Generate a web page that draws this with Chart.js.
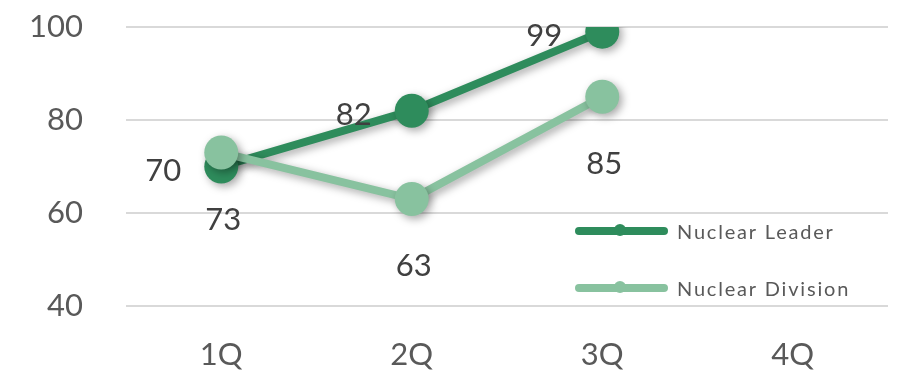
<!DOCTYPE html>
<html>
<head>
<meta charset="utf-8">
<script src="https://cdn.jsdelivr.net/npm/chart.js@4"></script>
<style>
  html, body { margin: 0; padding: 0; background: #fff; }
  #wrap { width: 898px; height: 371px; }
</style>
</head>
<body>
<div id="wrap"><canvas id="myChart" width="898" height="371"></canvas></div>
<script>
const quarters = ['1Q', '2Q', '3Q', '4Q'];
const leaderValues = [70, 82, 99, null];
const divisionValues = [73, 63, 85, null];
const seriesNames = ['Nuclear Leader', 'Nuclear Division'];
const yTicks = [40, 60, 80, 100];

const darkGreen = '#2e8c5c';
const lightGreen = '#88c29f';
const FONT = 'Lato, "DejaVu Sans", sans-serif';

// shadow under lines and points
const shadowPlugin = {
  id: 'shadow',
  beforeDatasetsDraw(chart) {
    const c = chart.ctx;
    c.save();
    c.shadowColor = 'rgba(0,0,0,0.35)';
    c.shadowBlur = 8;
    c.shadowOffsetX = 3;
    c.shadowOffsetY = 3;
  },
  afterDatasetsDraw(chart) {
    chart.ctx.restore();
  }
};

// value labels: leader to the left, division below
const labelPlugin = {
  id: 'valueLabels',
  afterDatasetsDraw(chart) {
    const c = chart.ctx;
    c.save();
    c.font = '31px ' + FONT;
    c.fillStyle = '#404040';
    chart.data.datasets.forEach((ds, i) => {
      const meta = chart.getDatasetMeta(i);
      meta.data.forEach((pt, j) => {
        const v = ds.data[j];
        if (v == null) return;
        c.textBaseline = 'middle';
        if (i === 0) {
          c.textAlign = 'right';
          c.fillText(String(v), pt.x - 40, pt.y + 4);
        } else {
          c.textAlign = 'center';
          c.fillText(String(v), pt.x + 2, pt.y + 67);
        }
      });
    });
    c.restore();
  }
};

// legend drawn inside the plot area
const legendPlugin = {
  id: 'insideLegend',
  afterDraw(chart) {
    const c = chart.ctx;
    const rows = [231, 288];
    c.save();
    chart.data.datasets.forEach((ds, i) => {
      const y = rows[i];
      c.strokeStyle = ds.borderColor;
      c.lineWidth = 8;
      c.lineCap = 'round';
      c.beginPath();
      c.moveTo(579, y);
      c.lineTo(664, y);
      c.stroke();
      c.fillStyle = ds.borderColor;
      c.beginPath();
      c.arc(620, y - 1, 6, 0, Math.PI * 2);
      c.fill();
      c.font = '20px ' + FONT;
      c.letterSpacing = '1.8px';
      c.fillStyle = '#595959';
      c.textAlign = 'left';
      c.textBaseline = 'middle';
      c.fillText(ds.label, 677, y + 2);
    });
    c.restore();
  }
};

const ctx1 = document.getElementById('myChart').getContext('2d');
const graph = new Chart(ctx1, {
  type: 'line',
  data: {
    labels: quarters,
    datasets: [{
      label: seriesNames[0],
      data: leaderValues,
      borderColor: darkGreen,
      backgroundColor: darkGreen,
      borderWidth: 8,
      pointRadius: 17,
      pointBorderWidth: 0,
      order: 2
    }, {
      label: seriesNames[1],
      data: divisionValues,
      borderColor: lightGreen,
      backgroundColor: lightGreen,
      borderWidth: 8,
      pointRadius: 17,
      pointBorderWidth: 0,
      order: 1
    }]
  },
  options: {
    responsive: false,
    animation: false,
    layout: { autoPadding: false, padding: { top: 27, right: 10, left: 0, bottom: 0 } },
    plugins: {
      legend: { display: false },
      tooltip: { enabled: false }
    },
    scales: {
      x: {
        offset: true,
        grid: { display: false, drawTicks: false },
        border: { display: false },
        ticks: { color: '#595959', font: { family: FONT, size: 31 }, padding: 30 },
        afterFit(s) { s.height = 65; s.paddingLeft = 0; s.paddingRight = 0; }
      },
      y: {
        min: 40,
        max: 100,
        afterBuildTicks(s) { s.ticks = yTicks.map(v => ({ value: v })); },
        grid: { color: '#d9d9d9', lineWidth: 2, drawTicks: false },
        border: { display: false },
        ticks: { color: '#595959', font: { family: FONT, size: 31 }, padding: 43 },
        afterFit(s) { s.width = 126; s.paddingTop = 0; s.paddingBottom = 0; }
      }
    }
  },
  plugins: [shadowPlugin, labelPlugin, legendPlugin]
});
</script>
</body>
</html>
